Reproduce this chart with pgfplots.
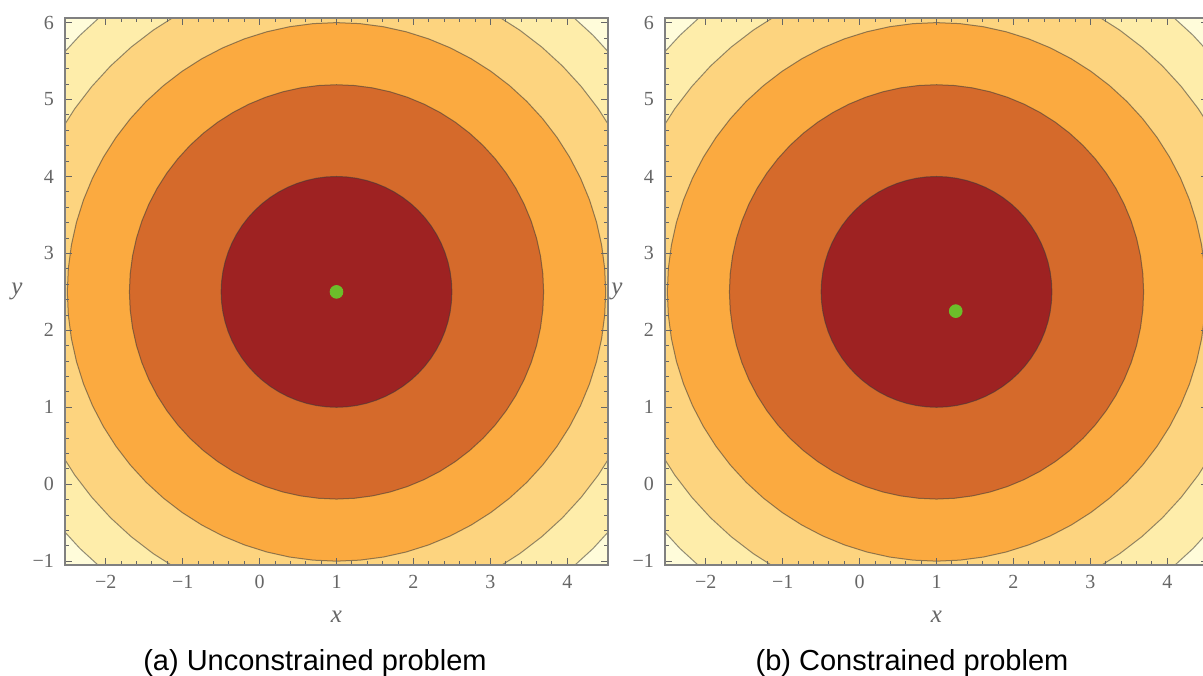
\documentclass[border=0pt]{standalone}
\usepackage{fontspec}
\setmainfont{Liberation Serif}
\newfontfamily\capfont{Liberation Sans}
\usepackage{pgfplots}
\pgfplotsset{compat=1.18}
\usepackage{pgfplotstable}

\definecolor{c0}{HTML}{FFFCDA}
\definecolor{c1}{HTML}{FEEDAA}
\definecolor{c2}{HTML}{FDD47F}
\definecolor{c3}{HTML}{FBAA40}
\definecolor{c4}{HTML}{D56A2B}
\definecolor{c5}{HTML}{9E2222}
\definecolor{dotgreen}{HTML}{6CBE2A}
\definecolor{cline}{HTML}{3A3A3A}

% unit circle, 5 degree steps
\pgfplotstableread{
c s
1 0
0.99619 0.08716
0.98481 0.17365
0.96593 0.25882
0.93969 0.34202
0.90631 0.42262
0.86603 0.5
0.81915 0.57358
0.76604 0.64279
0.70711 0.70711
0.64279 0.76604
0.57358 0.81915
0.5 0.86603
0.42262 0.90631
0.34202 0.93969
0.25882 0.96593
0.17365 0.98481
0.08716 0.99619
0 1
-0.08716 0.99619
-0.17365 0.98481
-0.25882 0.96593
-0.34202 0.93969
-0.42262 0.90631
-0.5 0.86603
-0.57358 0.81915
-0.64279 0.76604
-0.70711 0.70711
-0.76604 0.64279
-0.81915 0.57358
-0.86603 0.5
-0.90631 0.42262
-0.93969 0.34202
-0.96593 0.25882
-0.98481 0.17365
-0.99619 0.08716
-1 0
-0.99619 -0.08716
-0.98481 -0.17365
-0.96593 -0.25882
-0.93969 -0.34202
-0.90631 -0.42262
-0.86603 -0.5
-0.81915 -0.57358
-0.76604 -0.64279
-0.70711 -0.70711
-0.64279 -0.76604
-0.57358 -0.81915
-0.5 -0.86603
-0.42262 -0.90631
-0.34202 -0.93969
-0.25882 -0.96593
-0.17365 -0.98481
-0.08716 -0.99619
0 -1
0.08716 -0.99619
0.17365 -0.98481
0.25882 -0.96593
0.34202 -0.93969
0.42262 -0.90631
0.5 -0.86603
0.57358 -0.81915
0.64279 -0.76604
0.70711 -0.70711
0.76604 -0.64279
0.81915 -0.57358
0.86603 -0.5
0.90631 -0.42262
0.93969 -0.34202
0.96593 -0.25882
0.98481 -0.17365
0.99619 -0.08716
1 0
}\unitcircle

\pgfplotsset{
 ring/.style={draw=cline, draw opacity=0.55, line width=0.5pt, mark=none},
 myaxis/.style={
  anchor=south west,
  scale only axis, width=271.5pt, height=273.5pt,
  xmin=-2.53, xmax=4.53, ymin=-1.05, ymax=6.06,
  axis background/.style={fill=c0},
  axis on top,
  xtick={-2,...,4}, xticklabels={−2,−1,0,1,2,3,4},
  ytick={-1,...,6}, yticklabels={−1,0,1,2,3,4,5,6},
  minor tick num=4,
  tick align=inside,
  xticklabel pos=left, yticklabel pos=left,
  tick label style={font=\fontsize{10}{11}\selectfont, text=black!60},
  xticklabel style={yshift=-1.5pt},
  yticklabel style={xshift=-2pt},
  major tick length=3.5pt, minor tick length=2pt,
  every tick/.style={black!60, line width=0.45pt},
  axis line style={black!50, line width=0.8pt},
  xlabel={\itshape x}, ylabel={\itshape y},
  every axis x label/.style={at={(axis description cs:0.5,0)}, anchor=center, yshift=-26pt, font=\fontsize{12.5}{14}\selectfont, text=black!60},
  every axis y label/.style={at={(axis description cs:0,0.5)}, anchor=center, xshift=-24pt, font=\fontsize{12.5}{14}\selectfont, text=black!60},
 }
}

\newcommand\rings{%
 \addplot[ring, fill=c1] table[x expr={1+4.717*\thisrow{c}}, y expr={2.5+4.717*\thisrow{s}}] {\unitcircle};
 \addplot[ring, fill=c2] table[x expr={1+4.1533*\thisrow{c}}, y expr={2.5+4.1533*\thisrow{s}}] {\unitcircle};
 \addplot[ring, fill=c3] table[x expr={1+3.5*\thisrow{c}}, y expr={2.5+3.5*\thisrow{s}}] {\unitcircle};
 \addplot[ring, fill=c4] table[x expr={1+2.6926*\thisrow{c}}, y expr={2.5+2.6926*\thisrow{s}}] {\unitcircle};
 \addplot[ring, fill=c5] table[x expr={1+1.5*\thisrow{c}}, y expr={2.5+1.5*\thisrow{s}}] {\unitcircle};
}

\begin{document}
\begin{tikzpicture}
\path[use as bounding box] (0,0) rectangle (601.5pt,-337.5pt);
\clip (0,0) rectangle (601.5pt,-337.5pt);

\begin{axis}[myaxis, at={(32.5pt,-282.5pt)}]
 \rings
 \addplot[only marks, mark=*, mark size=3.2pt, color=dotgreen] coordinates {(1,2.5)};
\end{axis}

\begin{axis}[myaxis, at={(332.5pt,-282.5pt)}]
 \rings
 \addplot[only marks, mark=*, mark size=3.2pt, color=dotgreen] coordinates {(1.25,2.25)};
\end{axis}

\node[font=\capfont\fontsize{14.5}{16}\selectfont] at (157.5pt,-331.5pt) {(a) Unconstrained problem};
\node[font=\capfont\fontsize{14.5}{16}\selectfont] at (456pt,-331.5pt) {(b) Constrained problem};
\end{tikzpicture}
\end{document}
